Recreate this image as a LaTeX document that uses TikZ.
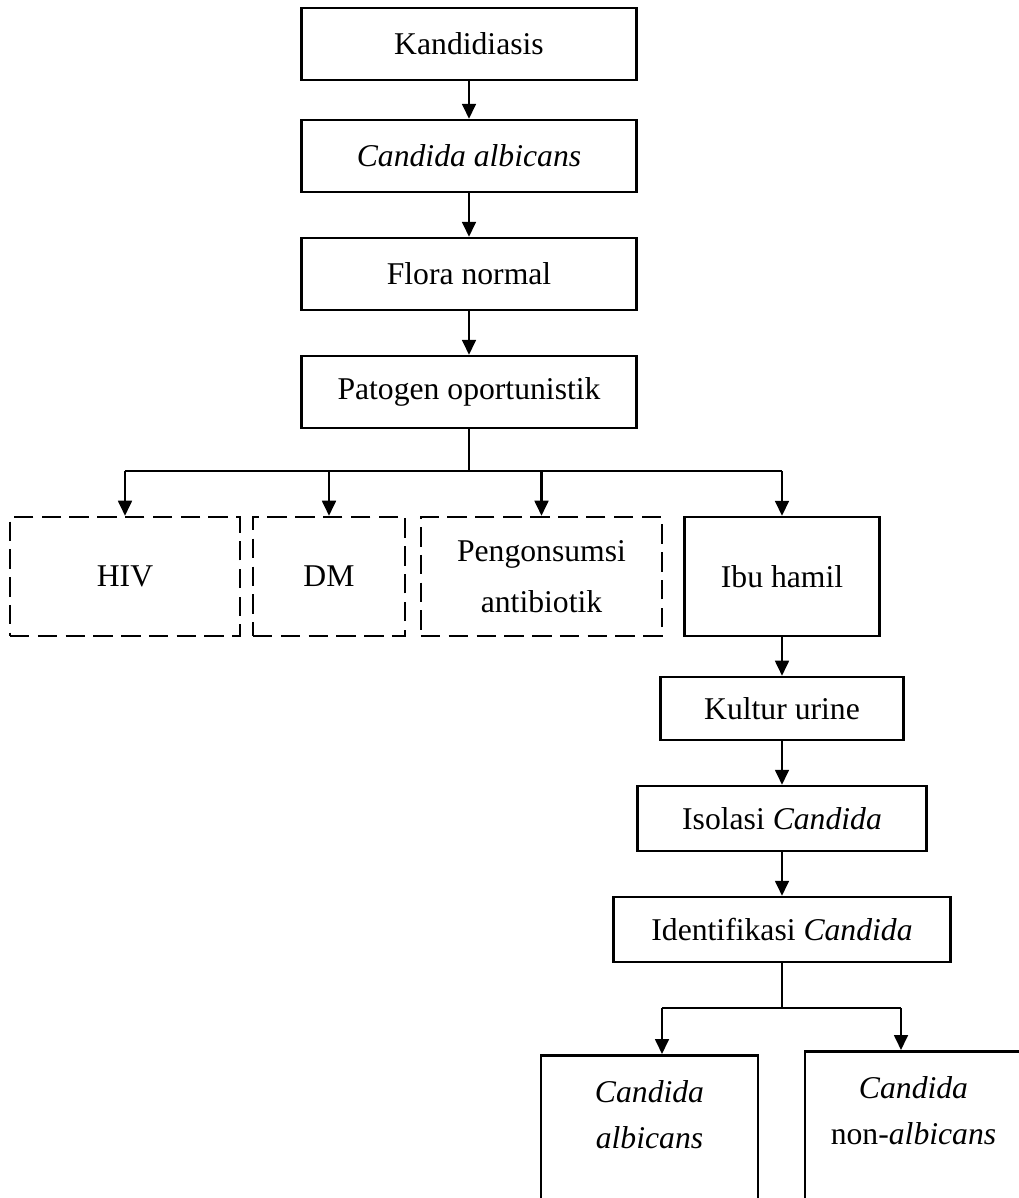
\documentclass[tikz,border=0pt]{standalone}
\usepackage{fontspec}
\setmainfont{Liberation Serif}
\usetikzlibrary{positioning}
\usetikzlibrary{arrows.meta}

\begin{document}
\begin{tikzpicture}[x=0.36pt, y=-0.36pt]

        \tikzstyle{box} = [rectangle, draw, line width=0.9pt, align=center,
            font=\fontsize{11.4}{18.5}\selectfont]
        \tikzstyle{risk} = [box, dash pattern=on 7pt off 3pt, line width=0.95pt]
        \tikzstyle{result} = [box, anchor=north, minimum width=78.1pt, inner ysep=9pt,
            text depth=60pt, font=\fontsize{11.4}{16.5}\selectfont]
        \tikzstyle{flow} = [-{Triangle[width=5pt,length=5.4pt]}, line width=0.75pt]
        \tikzstyle{branch} = [line width=0.45pt]

        \clip (0,0) rectangle (1019,1198);

        \node[box, minimum width=120.6pt, minimum height=25.9pt] (kand)   at (469,44)    {Kandidiasis};
        \node[box, minimum width=120.6pt, minimum height=25.9pt] (calbi)  at (469,156)   {\textit{Candida albicans}};
        \node[box, minimum width=120.6pt, minimum height=25.9pt] (flora)  at (469,274)   {Flora normal};
        \node[box, minimum width=120.6pt, minimum height=25.9pt] (pato)   at (469,392)   {Patogen oportunistik};

        \node[risk, minimum width=82.8pt, minimum height=42.8pt]  (hiv)    at (125,576.5) {HIV};
        \node[risk, minimum width=54.7pt, minimum height=42.8pt]  (dm)     at (329,576.5) {DM};
        \node[risk, minimum width=86.8pt, minimum height=42.8pt]  (anti)   at (541.5,576.5) {Pengonsumsi\\ antibiotik};
        \node[box, minimum width=70.2pt, minimum height=42.8pt]   (ibu)    at (782,576.5) {Ibu hamil};

        \node[box, minimum width=87.5pt, minimum height=22.7pt]   (kultur) at (782,708.5) {Kultur urine};
        \node[box, minimum width=104pt, minimum height=23.4pt]    (isol)   at (782,818.5) {Isolasi \textit{Candida}};
        \node[box, minimum width=121.3pt, minimum height=23.4pt]  (ident)  at (782,929.5) {Identifikasi \textit{Candida}};

        \node[result] (alb)    at (649.5,1054) {\textit{Candida}\\ \textit{albicans}};
        \node[result] (nonalb) at (913.5,1050) {\textit{Candida}\\ non-\textit{albicans}};

        \draw[flow] (kand)   -- (calbi);
        \draw[flow] (calbi)  -- (flora);
        \draw[flow] (flora)  -- (pato);

        \coordinate (split) at (469,471);
        \draw[branch] (pato) -- (split);
        \draw[branch] (hiv.north |- split) -- (ibu.north |- split);
        \draw[flow] (hiv.north |- split)  -- (hiv);
        \draw[flow] (dm.north |- split)   -- (dm);
        \draw[flow] (anti.north |- split) -- (anti);
        \draw[flow] (ibu.north |- split)  -- (ibu);

        \draw[flow] (ibu)    -- (kultur);
        \draw[flow] (kultur) -- (isol);
        \draw[flow] (isol)   -- (ident);

        \coordinate (splitL) at (662,1008);
        \coordinate (splitR) at (901,1008);
        \draw[branch] (ident) -- (ident.south |- splitL);
        \draw[branch] (splitL) -- (splitR);
        \draw[flow] (splitL) -- (splitL |- alb.north);
        \draw[flow] (splitR) -- (splitR |- nonalb.north);

\end{tikzpicture}
\end{document}
